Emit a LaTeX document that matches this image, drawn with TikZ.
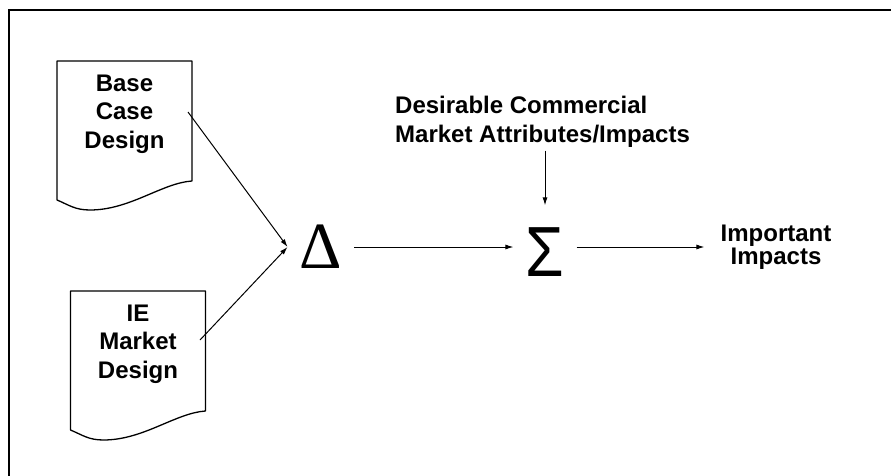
\documentclass[tikz,border=0pt]{standalone}
\usepackage{fontspec}
\setmainfont{Liberation Sans}
\newfontfamily\symfont{Liberation Serif}
\usetikzlibrary{arrows.meta,positioning,calc}

\begin{document}
\begin{tikzpicture}[
  x=1pt, y=-1pt,
  font=\fontsize{24}{28.5}\selectfont\bfseries,
  >={Latex[length=8pt,width=5pt]},
  doctext/.style={align=center, inner sep=0pt},
  sheet/.style={draw=black, line width=1.3pt, line join=round},
  op/.style={inner xsep=12pt, inner ysep=22pt},
  lbl/.style={inner sep=3pt},
  flow/.style={->, line width=1pt},
  frame/.style={line width=1.6pt},
]
\useasboundingbox (0,0) rectangle (891,476);
\draw[frame] (891,10) -- (9,10) -- (9,476);

% the two design sheets
\node[doctext] (base) at (124.5,114) {Base\\Case\\Design};
\node[doctext] (ie)   at (138,344)   {IE\\Market\\Design};
\foreach \d in {base,ie}
  \draw[sheet] ($(\d.center)+(-67.5,-53)$) -- ++(135,0) -- ++(0,120)
    .. controls +(-30,2) and +(40,0) .. ++(-102,29)
    .. controls +(-15,0) and +(12,5) .. ++(-33,-10) -- cycle;
\coordinate (baseout) at (188,112);
\coordinate (ieout)   at (200,340);

% operators and labels
\node[op, font=\symfont\fontsize{66}{66}\selectfont] (delta) at (321,247) {Δ};
\node[op, font=\fontsize{71}{71}\selectfont] (sigma) at (545,252) {\scalebox{0.88}[1]{Σ}};
\node[lbl, align=left, anchor=west] (desire) at (392,122)
  {Desirable Commercial\\Market Attributes/Impacts};
\node[inner xsep=16pt, align=center, font=\fontsize{24}{23.5}\selectfont\bfseries]
  (impact) at (776,247) {Important\\Impacts};

\draw[flow] (baseout) -- (delta.west);
\draw[flow] (ieout)   -- (delta.west);
\draw[flow] (delta.east) -- (delta.east -| sigma.west);
\draw[flow] (desire.south -| sigma) -- (sigma.north);
\draw[flow] (sigma.east |- impact) -- (impact.west);

\end{tikzpicture}
\end{document}
